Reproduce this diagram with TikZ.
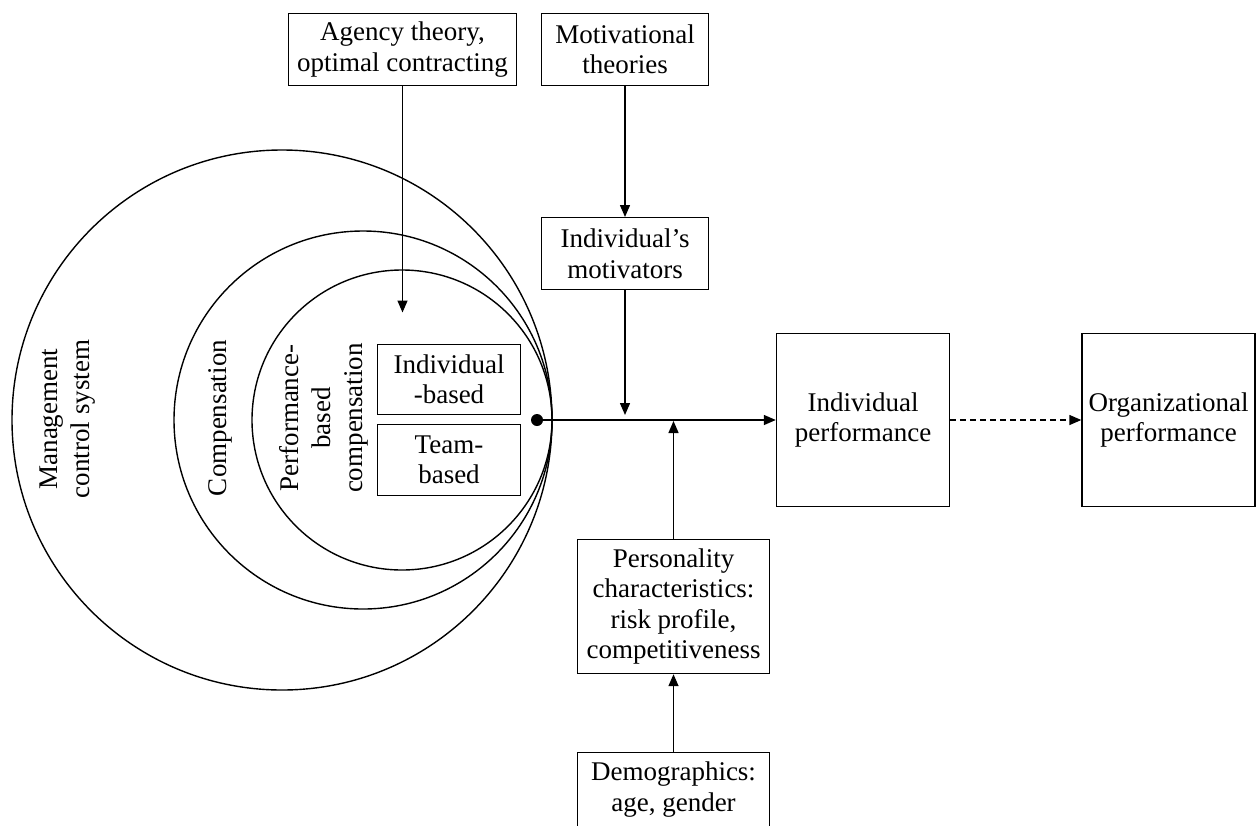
\documentclass[tikz,border=0pt]{standalone}
\usepackage{fontspec}
\setmainfont{Liberation Serif}
\usetikzlibrary{arrows.meta}
\begin{document}
\begin{tikzpicture}[x=1pt,y=-1pt,
  every node/.style={font=\fontsize{27}{30.5}\selectfont},
  box/.style={draw, line width=1.4pt, align=center, inner sep=0pt, anchor=center},
  lbl/.style={align=center, rotate=90, inner sep=0pt, font=\fontsize{27}{32}\selectfont},
  conn/.style={line width=1.4pt, -{Triangle[length=12pt,width=10pt]}},
  ring/.style={line width=1.4pt}]
\useasboundingbox (0,0) rectangle (1257,825);
\clip (0,0) rectangle (1257,825);
% nested circles
\draw[ring] (282,420) circle[radius=270];
\draw[ring] (363,420) circle[radius=189];
\draw[ring] (402,420) circle[radius=150];
% rotated labels
\node[lbl] (mcs) at (68,419) {Management\\control system};
\node[lbl] (comp) at (220,418) {Compensation};
\node[lbl] (pbc) at (324,418) {Performance-\\based\\compensation};
% inner boxes
\node[box, minimum width=143, minimum height=70] (indb) at (449,379.5) {Individual\\-based};
\node[box, minimum width=143, minimum height=71] (teamb) at (449,460) {Team-\\based};
% top boxes
\node[box, minimum width=228, minimum height=72] (agency) at (402.5,49.4) {Agency theory,\\optimal contracting};
\node[box, minimum width=167, minimum height=72] (motiv) at (625,49.4) {Motivational\\theories};
\node[box, minimum width=167, minimum height=72] (motivators) at (625,253.7) {Individual’s\\motivators};
% performance boxes
\node[box, minimum width=173, minimum height=173] (indperf) at (863,420) {Individual\\performance};
\node[box, minimum width=173, minimum height=173] (orgperf) at (1168.5,420) {Organizational\\performance};
% lower boxes
\node[box, minimum width=192, minimum height=134] (pers) at (673.5,606.5) {Personality\\characteristics:\\risk profile,\\competitiveness};
\node[box, minimum width=192, minimum height=74] (demo) at (673.5,789.5) {Demographics:\\age, gender};
% dot and points
\fill (537,420) circle[radius=6] coordinate (dot);
\coordinate (agtip) at (402.5,312.5);
\coordinate (mtip) at (625,415);
\coordinate (ptip) at (673.5,421);
% connectors
\draw[conn] (dot) -- (indperf.west);
\draw[conn] (agency.south) -- (agtip);
\draw[conn] (motiv.south) -- (motivators.north);
\draw[conn] (motivators.south) -- (mtip);
\draw[conn] (pers.north) -- (ptip);
\draw[conn] (demo.north) -- (pers.south);
\draw[conn, dash pattern=on 6pt off 4pt] (indperf.east) -- (orgperf.west);
\end{tikzpicture}
\end{document}
